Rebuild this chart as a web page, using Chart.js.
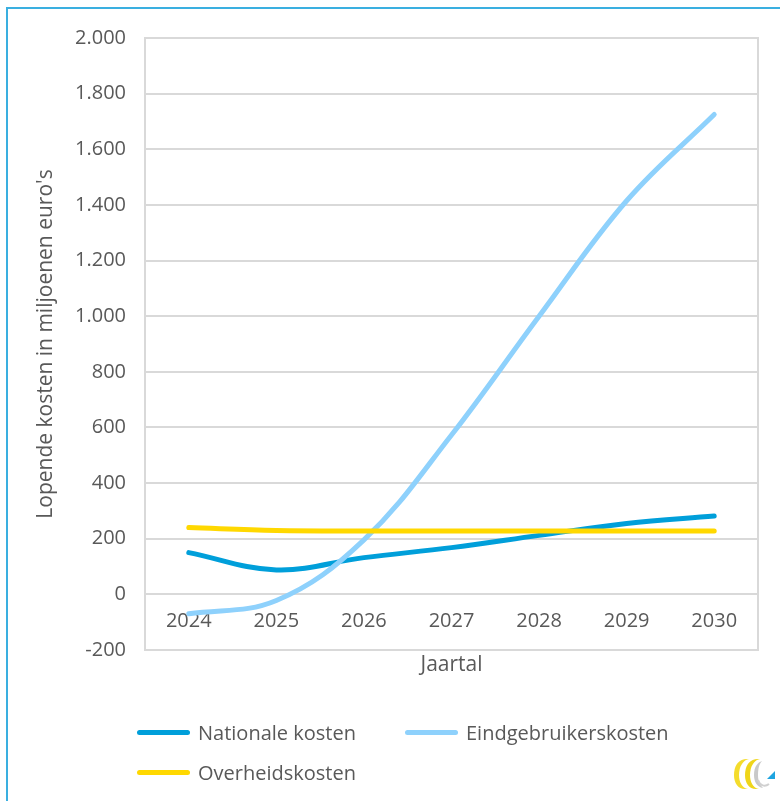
<!DOCTYPE html>
<html>
<head>
<meta charset="utf-8">
<script src="https://cdn.jsdelivr.net/npm/chart.js@4.4.1/dist/chart.umd.min.js"></script>
<style>
  body { margin: 0; background: #fff; }
  #wrap { position: relative; width: 780px; height: 801px; overflow: hidden; font-family: "Open Sans", sans-serif; }
  #frame { position: absolute; left: 6px; top: 7px; right: -4px; bottom: -4px;
           border-left: 2px solid #3aafe0; border-top: 2px solid #3aafe0; }
  .leg { position: absolute; display: flex; align-items: center; color: #595959; font-size: 20px; white-space: nowrap; }
  .leg span.sw { display: inline-block; width: 53px; height: 5px; border-radius: 3px; margin-right: 8px; }
  #logo { position: absolute; left: 733px; top: 756px; }
</style>
</head>
<body>
<div id="wrap">
  <canvas id="chart" width="780" height="801"></canvas>
  <div id="frame"></div>
  <div id="legend"></div>
  <svg id="logo" width="44" height="36" viewBox="0 0 44 36">
    <path d="M14 3 C4 3 1 12 1 19 C1 27 5 33 12 33 L15 33 C9 32 6 26 6 19 C6 11 10 4 16 3 Z" fill="#f4dc2c"/>
    <path d="M25 3 C15 3 12 12 12 19 C12 27 16 33 23 33 L26 33 C20 32 17 26 17 19 C17 11 21 4 27 3 Z" fill="#efd51a"/>
    <path d="M29 5 C23 7 21 13 21 19 C21 26 24 31 30 32 C27 29 25 25 25 19 C25 13 26 8 29 5 Z" fill="#c9c9c9"/>
    <path d="M25 24 C27 30 32 31 36 28" fill="none" stroke="#d0d0d0" stroke-width="2"/>
    <polygon points="34,23 42,15 42,23" fill="#1ea4e0"/>
  </svg>
</div>
<script>
// jaartallen op de x-as
const years = ['2024', '2025', '2026', '2027', '2028', '2029', '2030'];

// lopende kosten in miljoenen euro's
const nationaleKosten = [150, 88, 132, 168, 212, 255, 282];
const eindgebruikersKosten = [-70, -22, 196, 573, 1000, 1415, 1725];
const overheidsKosten = [240, 230, 228, 228, 228, 228, 228];

const seriesNames = ['Nationale kosten', 'Eindgebruikerskosten', 'Overheidskosten'];
const seriesColors = ['#009fda', '#8ed1fc', '#ffd800'];

const yMin = -200, yMax = 2000, yStep = 200;

const FONT = '"Open Sans", sans-serif';
const TEXT = '#595959';
const GRID = '#d9d9d9';

function nlNumber(v) {
    return String(v).replace(/\B(?=(\d{3})+(?!\d))/g, '.');
}

// rechter rand van het plotvlak
const plotFrame = {
    id: 'plotFrame',
    beforeDatasetsDraw(chart) {
        const a = chart.chartArea, ctx = chart.ctx;
        ctx.save();
        ctx.strokeStyle = GRID;
        ctx.lineWidth = 2;
        ctx.beginPath();
        ctx.moveTo(a.right, a.top - 1);
        ctx.lineTo(a.right, a.bottom + 1);
        ctx.stroke();
        ctx.restore();
    }
};

const allSeries = [nationaleKosten, eindgebruikersKosten, overheidsKosten];

const chart = new Chart(document.getElementById('chart'), {
    type: 'line',
    data: {
        labels: years,
        datasets: allSeries.map((d, i) => ({
            label: seriesNames[i],
            data: d,
            borderColor: seriesColors[i],
            backgroundColor: seriesColors[i],
            borderWidth: 5,
            borderCapStyle: 'round',
            tension: 0.38,
            pointRadius: 0,
            fill: false
        })).reverse()
    },
    options: {
        responsive: false,
        animation: false,
        layout: { padding: { left: 0, top: 38, right: 22, bottom: 123 } },
        plugins: { legend: { display: false }, tooltip: { enabled: false } },
        scales: {
            x: {
                type: 'category',
                position: { y: 0 },
                offset: true,
                grid: { display: false, drawTicks: false },
                border: { display: false },
                ticks: { color: TEXT, font: { family: FONT, size: 20 }, padding: 15, maxRotation: 0 }
            },
            x2: {
                type: 'category',
                position: 'bottom',
                labels: years,
                offset: true,
                grid: { display: false, drawTicks: false },
                border: { display: false },
                ticks: { display: false },
                title: { display: true, text: 'Jaartal', color: TEXT, font: { family: FONT, size: 21 }, padding: 0 },
                afterFit(scale) { scale.height = 28; }
            },
            y: {
                min: yMin,
                max: yMax,
                ticks: {
                    stepSize: yStep,
                    color: TEXT,
                    font: { family: FONT, size: 20 },
                    padding: 19,
                    callback: v => nlNumber(v)
                },
                grid: { color: GRID, lineWidth: 2, drawTicks: false },
                border: { color: GRID, width: 2 },
                title: {
                    display: true,
                    text: "Lopende kosten in miljoenen euro's",
                    color: TEXT,
                    font: { family: FONT, size: 21 },
                    padding: { top: 33, bottom: 0 }
                },
                afterFit(scale) { scale.width = 145; }
            }
        }
    },
    plugins: [plotFrame]
});

// legenda in twee kolommen
const legendSpots = [[137, 733], [405, 733], [137, 773]];
const legendBox = document.getElementById('legend');
seriesNames.forEach((name, i) => {
    const el = document.createElement('div');
    el.className = 'leg';
    el.style.left = legendSpots[i][0] + 'px';
    el.style.top = (legendSpots[i][1] - 14) + 'px';
    el.innerHTML = '<span class="sw" style="background:' + seriesColors[i] + '"></span>' + name;
    legendBox.appendChild(el);
});
</script>
</body>
</html>
